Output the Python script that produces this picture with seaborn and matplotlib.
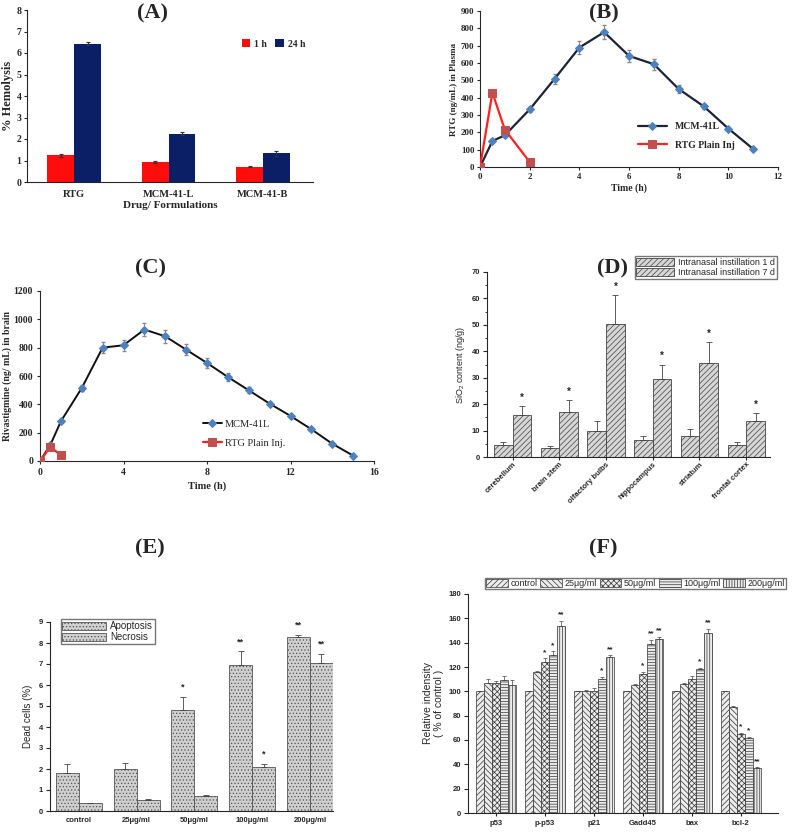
import numpy as np
import pandas as pd
import matplotlib
matplotlib.use('Agg')
import matplotlib.pyplot as plt
import seaborn as sns

sns.set_style('ticks')
plt.rcParams['font.family'] = ['Liberation Sans', 'DejaVu Sans']
plt.rcParams['mathtext.fontset'] = 'custom'
plt.rcParams['mathtext.rm'] = 'Liberation Sans'
plt.rcParams['hatch.linewidth'] = 0.5
SERIF = ['Liberation Serif', 'DejaVu Serif']

# (A) hemolysis
hemo_groups = ['RTG', 'MCM-41-L', 'MCM-41-B']
hemo_1h = [1.25, 0.93, 0.72]
hemo_1h_err = [0.07, 0.03, 0.03]
hemo_24h = [6.43, 2.25, 1.33]
hemo_24h_err = [0.07, 0.06, 0.12]

# (B) plasma profile
plasma_t = [0, 0.5, 1, 2, 3, 4, 5, 6, 7, 8, 9, 10, 11]
plasma_mcm = [0, 150, 183, 332, 508, 689, 778, 641, 593, 450, 351, 222, 104]
plasma_mcm_err = [3, 10, 10, 12, 30, 37, 40, 33, 32, 22, 15, 10, 5]
plasma_inj_t = [0, 0.5, 1, 2]
plasma_inj = [0, 429, 216, 29]
plasma_inj_err = [0, 15, 10, 5]

# (C) brain profile
brain_t = [0, 0.5, 1, 2, 3, 4, 5, 6, 7, 8, 9, 10, 11, 12, 13, 14, 15]
brain_mcm = [0, 115, 280, 515, 800, 817, 928, 880, 786, 692, 593, 499, 405, 318, 224, 122, 38]
brain_mcm_err = [2, 8, 15, 20, 40, 40, 45, 45, 40, 35, 30, 20, 15, 12, 10, 8, 5]
brain_inj_t = [0, 0.5, 1]
brain_inj = [0, 100, 40]

# (D) SiO2 content
regions = ['cerebellum', 'brain stem', 'olfactory bulbs', 'hippocampus', 'striatum', 'frontal cortex']
sio2_1d = [4.5, 3.5, 10.0, 6.5, 8.0, 4.7]
sio2_1d_err = [1.0, 0.8, 3.5, 1.6, 2.5, 1.1]
sio2_7d = [15.8, 17.0, 50.5, 29.5, 35.7, 13.6]
sio2_7d_err = [3.5, 4.6, 10.8, 5.5, 7.8, 3.0]
sio2_7d_star = ['*', '*', '*', '*', '*', '*']
sio2_labels = ['Intranasal instillation 1 d', 'Intranasal instillation 7 d']

# (E) dead cells
doses = ['control', '25μg/ml', '50μg/ml', '100μg/ml', '200μg/ml']
apoptosis = [1.79, 1.98, 4.82, 6.95, 8.27]
apoptosis_err = [0.46, 0.32, 0.63, 0.65, 0.10]
apoptosis_star = ['', '', '*', '**', '**']
necrosis = [0.38, 0.51, 0.71, 2.08, 7.05]
necrosis_err = [0.02, 0.07, 0.05, 0.15, 0.45]
necrosis_star = ['', '', '', '*', '**']
death_labels = ['Apoptosis', 'Necrosis']

# (F) protein expression
proteins = ['p53', 'p-p53', 'p21', 'Gadd45', 'bax', 'bcl-2']
f_series = ['control', '25μg/ml', '50μg/ml', '100μg/ml', '200μg/ml']
f_values = [
    [100, 100, 100, 100, 100, 100],
    [107, 116, 100, 105, 106, 87],
    [106.5, 124, 100, 114, 110, 65],
    [109.5, 130, 110, 139, 118, 61.5],
    [105.5, 154, 128, 143, 148, 37],
]
f_errors = [
    [0, 0, 0, 0, 0, 0],
    [3, 1, 1.5, 1, 1, 1],
    [2, 3, 3, 2, 3, 1],
    [3.5, 3, 2, 3.5, 1.5, 1],
    [3.5, 4, 1.5, 2, 3.5, 0.5],
]
f_stars = [
    ['', '', '', '', '', ''],
    ['', '', '', '', '', ''],
    ['', '*', '', '*', '', '*'],
    ['', '*', '*', '**', '*', '*'],
    ['', '**', '**', '**', '**', '**'],
]
f_hatches = ['//////', '\\\\\\\\\\\\', 'xxxxxx', '------', '||||||']

W, H = 794, 832
fig = plt.figure(figsize=(W / 100, H / 100), dpi=100)


def px_axes(x0, y0, x1, y1):
    return fig.add_axes([x0 / W, 1 - y1 / H, (x1 - x0) / W, (y1 - y0) / H])


def bar_centers(container):
    return [b.get_x() + b.get_width() / 2 for b in container], [b.get_height() for b in container]


def panel_title(x, y, s):
    fig.text(x / W, 1 - y / H, s, ha='center', va='center', fontsize=16,
             fontweight='bold', family=SERIF)


# ---------------- (A)
axA = px_axes(27, 10, 313, 182)
dfA = pd.DataFrame({'group': hemo_groups * 2,
                    'time': ['1 h'] * 3 + ['24 h'] * 3,
                    'value': hemo_1h + hemo_24h})
sns.barplot(data=dfA, x='group', y='value', hue='time', ax=axA, width=0.57,
            palette=['#ff0d0d', '#0b1f66'], errorbar=None, saturation=1, linewidth=0)
for cont, err in zip(axA.containers, [hemo_1h_err, hemo_24h_err]):
    xs, hs = bar_centers(cont)
    axA.errorbar(xs, hs, yerr=err, fmt='none', ecolor='#333333', elinewidth=0.8,
                 capsize=1.5, capthick=0.8)
axA.set_xlim(-0.5, 2.53)
axA.set_ylim(0, 8)
axA.set_yticks(range(0, 9))
axA.set_ylabel('% Hemolysis', fontsize=9, fontweight='bold', family=SERIF, labelpad=2)
axA.set_xlabel('Drug/ Formulations', fontsize=8, fontweight='bold', family=SERIF, labelpad=1)
axA.tick_params(axis='x', length=0, labelsize=7.5, pad=6)
axA.tick_params(axis='y', length=2, labelsize=7, pad=2)
for lab in axA.get_xticklabels() + axA.get_yticklabels():
    lab.set_family(SERIF)
    lab.set_fontweight('bold')
axA.legend(loc='upper left', bbox_to_anchor=(0.72, 0.88), ncol=2, frameon=False,
           handlelength=0.9, handleheight=0.9, columnspacing=0.8, handletextpad=0.4,
           prop={'family': SERIF, 'weight': 'bold', 'size': 7})
sns.despine(ax=axA)
panel_title(152, 13, '(A)')

# ---------------- (B)
axB = px_axes(480, 11, 778, 167)
sns.lineplot(x=plasma_t, y=plasma_mcm, ax=axB, color='#1c2238', lw=1.6, marker='D',
             markersize=4, markerfacecolor='#4f81bd', markeredgecolor='#4f81bd',
             label='MCM-41L', zorder=3)
sns.lineplot(x=plasma_inj_t, y=plasma_inj, ax=axB, color='#ff2020', lw=1.6, marker='s',
             markersize=5.5, markerfacecolor='#c0504d', markeredgecolor='#c0504d',
             label='RTG Plain Inj', zorder=4)
axB.errorbar(plasma_t, plasma_mcm, yerr=plasma_mcm_err, fmt='none', ecolor='#888888',
             elinewidth=0.7, capsize=1.5, zorder=2)
axB.errorbar(plasma_inj_t, plasma_inj, yerr=plasma_inj_err, fmt='none', ecolor='#888888',
             elinewidth=0.7, capsize=1.5, zorder=2)
axB.set_xlim(0, 12)
axB.set_ylim(0, 900)
axB.set_xticks(range(0, 13, 2))
axB.set_yticks(range(0, 901, 100))
axB.set_xlabel('Time (h)', fontsize=7, fontweight='bold', family=SERIF, labelpad=2)
axB.set_ylabel('RTG (ng/mL) in Plasma', fontsize=6.5, fontweight='bold', family=SERIF, labelpad=2)
axB.tick_params(labelsize=6.5, length=2, pad=2)
for lab in axB.get_xticklabels() + axB.get_yticklabels():
    lab.set_family(SERIF)
    lab.set_fontweight('bold')
axB.legend(loc='center left', bbox_to_anchor=(0.5, 0.2), frameon=False, handlelength=3,
           labelspacing=1.0, prop={'family': SERIF, 'weight': 'bold', 'size': 7})
sns.despine(ax=axB)
panel_title(604, 13, '(B)')

# ---------------- (C)
axC = px_axes(40, 291, 374, 461)
sns.lineplot(x=brain_t, y=brain_mcm, ax=axC, color='#111111', lw=1.4, marker='D',
             markersize=4.5, markerfacecolor='#4f81bd', markeredgecolor='#4f81bd',
             label='MCM-41L', zorder=3)
sns.lineplot(x=brain_inj_t, y=brain_inj, ax=axC, color='#ff2020', lw=1.6, marker='s',
             markersize=5.5, markerfacecolor='#c0504d', markeredgecolor='#c0504d',
             label='RTG Plain Inj.', zorder=4)
axC.errorbar(brain_t, brain_mcm, yerr=brain_mcm_err, fmt='none', ecolor='#888888',
             elinewidth=0.7, capsize=1.5, zorder=2)
axC.set_xlim(0, 16)
axC.set_ylim(0, 1200)
axC.set_xticks(range(0, 17, 4))
axC.set_yticks(range(0, 1201, 200))
axC.set_xlabel('Time (h)', fontsize=7.5, fontweight='bold', family=SERIF, labelpad=3)
axC.set_ylabel('Rivastigmine (ng/ mL) in brain', fontsize=7, fontweight='bold', family=SERIF,
               labelpad=1)
axC.tick_params(labelsize=7, length=2, pad=3)
for lab in axC.get_xticklabels() + axC.get_yticklabels():
    lab.set_family(SERIF)
    lab.set_fontweight('bold')
axC.legend(loc='center left', bbox_to_anchor=(0.46, 0.16), frameon=False, handlelength=1.8,
           labelspacing=0.9, handletextpad=0.3, prop={'family': SERIF, 'size': 7.5})
sns.despine(ax=axC)
panel_title(150, 268, '(C)')

# ---------------- (D)
axD = px_axes(487, 272, 770, 457)
dfD = pd.DataFrame({'region': regions * 2,
                    'time': [sio2_labels[0]] * 6 + [sio2_labels[1]] * 6,
                    'value': sio2_1d + sio2_7d})
sns.barplot(data=dfD, x='region', y='value', hue='time', ax=axD, width=0.8,
            palette=['#d6d6d6', '#d6d6d6'], errorbar=None, saturation=1, gap=0, legend=False)
for cont, err in zip(axD.containers, [sio2_1d_err, sio2_7d_err]):
    for b in cont:
        b.set_hatch('//////')
        b.set_edgecolor('#444444')
        b.set_linewidth(0.6)
    xs, hs = bar_centers(cont)
    axD.errorbar(xs, hs, yerr=[np.zeros(len(err)), err], fmt='none', ecolor='#444444',
                 elinewidth=0.6, capsize=2, capthick=0.6)
xs, hs = bar_centers(axD.containers[1])
for x, h, e, s in zip(xs, hs, sio2_7d_err, sio2_7d_star):
    axD.text(x, h + e + 1.2, s, ha='center', va='bottom', fontsize=7, fontweight='bold')
axD.set_xlim(-0.55, 5.51)
axD.set_ylim(0, 70)
axD.set_yticks(range(0, 71, 10))
axD.set_yticks(range(0, 71, 5), minor=True)
axD.set_xlabel('')
axD.set_ylabel('SiO$_2$ content (ng/g)', fontsize=6.5, labelpad=3)
axD.tick_params(axis='y', labelsize=5.5, length=3, pad=2)
axD.tick_params(axis='y', which='minor', length=1.5)
axD.tick_params(axis='x', labelsize=5.5, length=2, pad=1)
for lab in axD.get_xticklabels():
    lab.set_rotation(45)
    lab.set_ha('right')
    lab.set_rotation_mode('anchor')
for lab in axD.get_xticklabels() + axD.get_yticklabels():
    lab.set_fontweight('bold')
axD.legend(axD.containers[:2], sio2_labels, loc='upper right', bbox_to_anchor=(1.04, 1.11),
           frameon=True, fancybox=False, edgecolor='#555555', handlelength=4.2,
           handleheight=0.9, labelspacing=0.1, borderpad=0.2, handletextpad=0.4, fontsize=6.5)
sns.despine(ax=axD)
panel_title(613, 268, '(D)')

# ---------------- (E)
axE = px_axes(50, 622, 333, 811)
dfE = pd.DataFrame({'dose': doses * 2,
                    'type': [death_labels[0]] * 5 + [death_labels[1]] * 5,
                    'value': apoptosis + necrosis})
sns.barplot(data=dfE, x='dose', y='value', hue='type', ax=axE, width=0.8,
            palette=['#cfcfcf', '#cfcfcf'], errorbar=None, saturation=1, gap=0, legend=False)
for cont, err, stars in zip(axE.containers, [apoptosis_err, necrosis_err],
                            [apoptosis_star, necrosis_star]):
    for b in cont:
        b.set_hatch('.....')
        b.set_edgecolor('#555555')
        b.set_linewidth(0.6)
    xs, hs = bar_centers(cont)
    axE.errorbar(xs, hs, yerr=[np.zeros(len(err)), err], fmt='none', ecolor='#444444',
                 elinewidth=0.6, capsize=2, capthick=0.6)
    for x, h, e, s in zip(xs, hs, err, stars):
        axE.text(x, h + e + 0.25, s, ha='center', va='bottom', fontsize=6.5, fontweight='bold')
axE.set_xlim(-0.5, 4.4)
axE.set_ylim(0, 9)
axE.set_yticks(range(0, 10))
axE.set_xlabel('')
axE.set_ylabel('Dead cells (%)', fontsize=7, labelpad=4)
axE.tick_params(axis='y', labelsize=5.5, length=3, pad=2)
axE.tick_params(axis='x', labelsize=5.5, length=0, pad=4)
for lab in axE.get_xticklabels() + axE.get_yticklabels():
    lab.set_fontweight('bold')
axE.legend(axE.containers[:2], death_labels, loc='upper left', bbox_to_anchor=(0.02, 1.04),
           frameon=True, fancybox=False, edgecolor='#555555', handlelength=4.5,
           handleheight=0.9, labelspacing=0.1, borderpad=0.2, handletextpad=0.4, fontsize=7)
sns.despine(ax=axE)
panel_title(150, 548, '(E)')

# ---------------- (F)
axF = px_axes(468, 594, 778, 813)
dfF = pd.DataFrame({'protein': proteins * len(f_series),
                    'dose': [s for s in f_series for _ in proteins],
                    'value': [v for row in f_values for v in row]})
sns.barplot(data=dfF, x='protein', y='value', hue='dose', ax=axF, width=0.82,
            palette=['#ececec'] * 5, errorbar=None, saturation=1, gap=0, legend=False)
for cont, err, stars, hatch in zip(axF.containers, f_errors, f_stars, f_hatches):
    for b in cont:
        b.set_hatch(hatch)
        b.set_edgecolor('#333333')
        b.set_linewidth(0.5)
    xs, hs = bar_centers(cont)
    axF.errorbar(xs, hs, yerr=[np.zeros(len(err)), err], fmt='none', ecolor='#444444',
                 elinewidth=0.5, capsize=1.2, capthick=0.5)
    for x, h, e, s in zip(xs, hs, err, stars):
        axF.text(x, h + e + 2, s, ha='center', va='bottom', fontsize=6, fontweight='bold')
axF.set_xlim(-0.57, 5.76)
axF.set_ylim(0, 180)
axF.set_yticks(range(0, 181, 20))
axF.set_xlabel('')
axF.set_ylabel('Relative indensity\n( % of control )', fontsize=7.5, labelpad=3,
               linespacing=1.1)
axF.tick_params(axis='y', labelsize=5.5, length=3, pad=2)
axF.tick_params(axis='x', labelsize=5.5, length=2, pad=3)
for lab in axF.get_xticklabels() + axF.get_yticklabels():
    lab.set_fontweight('bold')
axF.legend(axF.containers[:5], f_series, loc='lower left', bbox_to_anchor=(0.04, 1.0), ncol=5,
           frameon=True, fancybox=False, edgecolor='#555555', handlelength=2.4,
           handleheight=0.9, columnspacing=0.3, borderpad=0.15, handletextpad=0.3, fontsize=6.5)
sns.despine(ax=axF)
panel_title(603, 548, '(F)')

fig.savefig('out.png', dpi=100)
